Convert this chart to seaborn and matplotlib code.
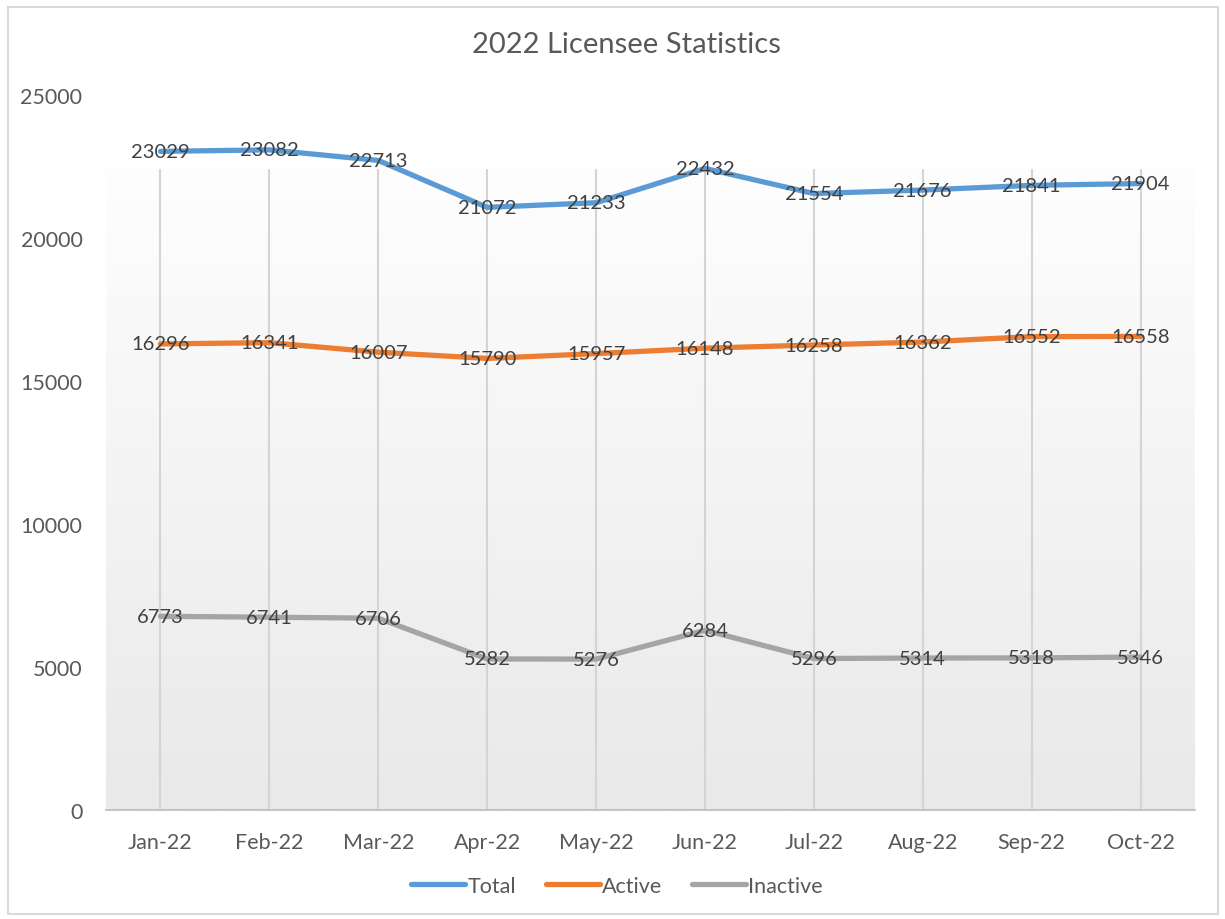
import numpy as np
import pandas as pd
import matplotlib.pyplot as plt
import seaborn as sns
from matplotlib.colors import LinearSegmentedColormap
from matplotlib.patches import Rectangle

# Datos del gráfico
months = ["Jan-22", "Feb-22", "Mar-22", "Apr-22", "May-22",
          "Jun-22", "Jul-22", "Aug-22", "Sep-22", "Oct-22"]
total = [23029, 23082, 22713, 21072, 21233, 22432, 21554, 21676, 21841, 21904]
active = [16296, 16341, 16007, 15790, 15957, 16148, 16258, 16362, 16552, 16558]
inactive = [6773, 6741, 6706, 5282, 5276, 6284, 5296, 5314, 5318, 5346]
series_names = ["Total", "Active", "Inactive"]
colors = ["#5B9BD5", "#ED7D31", "#A5A5A5"]
y_ticks = [0, 5000, 10000, 15000, 20000, 25000]

df = pd.DataFrame({"Month": months, "Total": total, "Active": active, "Inactive": inactive})
long_df = df.melt(id_vars="Month", var_name="Series", value_name="Count")

sns.set_style("white")
plt.rcParams["font.family"] = ["Lato", "DejaVu Sans"]

W, H = 1225, 920
fig = plt.figure(figsize=(W / 100, H / 100), dpi=100)
ax = fig.add_axes([106 / W, 1 - 811 / H, (1195 - 106) / W, (811 - 96) / H])

# el área sombreada y la rejilla empiezan algo por debajo del tope del eje
shade_top = 22400
bg = LinearSegmentedColormap.from_list("bg", ["#fefefe", "#e9e9e9"])
ax.imshow(np.linspace(0, 1, 256).reshape(-1, 1), cmap=bg, aspect="auto",
          extent=(-0.5, len(months) - 0.5, 0, shade_top), origin="upper", zorder=0)
ax.vlines(range(len(months)), 0, shade_top, color="#d4d4d4", linewidth=1.5, zorder=0.5)

sns.lineplot(data=long_df, x="Month", y="Count", hue="Series", hue_order=series_names,
             palette=colors, linewidth=3.8, sort=False, ax=ax)

# etiquetas de datos
for name in series_names:
    for i, v in enumerate(df[name]):
        ax.text(i, v, str(v), ha="center", va="center", fontsize=14.5,
                color="#404040", zorder=5)

ax.set_xlim(-0.5, len(months) - 0.5)
ax.set_ylim(0, 25000)
ax.set_yticks(y_ticks)
ax.set_xlabel("")
ax.set_ylabel("")
ax.grid(False)
for s in ["left", "top", "right"]:
    ax.spines[s].set_visible(False)
ax.spines["bottom"].set_color("#bfbfbf")
ax.spines["bottom"].set_linewidth(1.3)
ax.tick_params(axis="both", length=0, labelsize=15.5, labelcolor="#595959")
ax.tick_params(axis="y", pad=17)
ax.tick_params(axis="x", pad=16)

handles, labels = ax.get_legend_handles_labels()
ax.legend(handles, labels, loc="center", bbox_to_anchor=(617 / W, 1 - 887 / H),
          bbox_transform=fig.transFigure, ncol=3, frameon=False, handlelength=2.5,
          handletextpad=0.1, columnspacing=1.4, fontsize=15.5, labelcolor="#595959")

fig.text(626 / W, 1 - 45 / H, "2022 Licensee Statistics", ha="center", va="center",
         fontsize=21, color="#595959")

# marco del gráfico
fig.patches.append(Rectangle((8 / W, 5 / H), 1210 / W, 907 / H, transform=fig.transFigure,
                             fill=False, edgecolor="#d9d9d9", linewidth=1.5))

fig.savefig("out.png", dpi=100)
